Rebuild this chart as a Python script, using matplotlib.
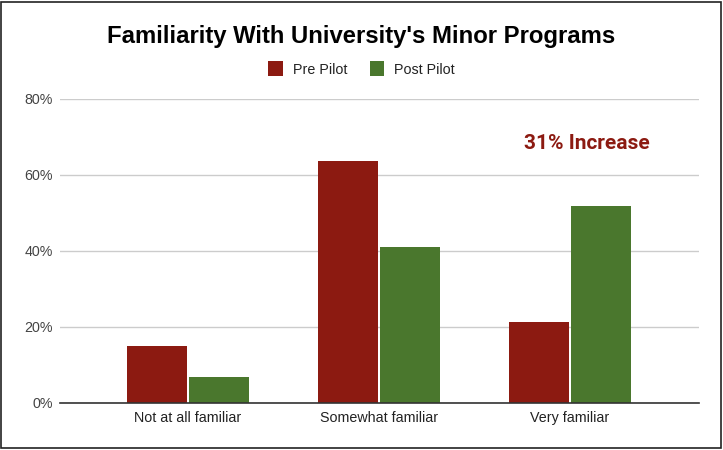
import numpy as np
import matplotlib
matplotlib.use('Agg')
import matplotlib.pyplot as plt
from matplotlib.patches import Rectangle

categories = ['Not at all familiar', 'Somewhat familiar', 'Very familiar']
pre_pilot = [14.9, 63.7, 21.2]
post_pilot = [6.8, 41.1, 51.9]
y_ticks = [0, 20, 40, 60, 80]

plt.rcParams['font.family'] = ['Liberation Sans', 'DejaVu Sans']

fig = plt.figure(figsize=(7.23, 4.5), dpi=100)
ax = fig.add_axes([60/723, 47/450, 639/723, 304/450])

x = np.arange(len(categories))
w = 0.314
ax.bar(x - w/2 - 0.005, pre_pilot, w, color='#8c1a11', label='Pre Pilot', zorder=3)
ax.bar(x + w/2 + 0.005, post_pilot, w, color='#4a772d', label='Post Pilot', zorder=3)

ax.set_xlim(-0.67, 2.675)
ax.set_ylim(0, 80)
ax.set_yticks(y_ticks)
ax.set_yticklabels([f'{t}%' for t in y_ticks])
ax.set_xticks(x)
ax.set_xticklabels(categories)
ax.tick_params(length=0, labelsize=10.3, colors='#444444')
ax.tick_params(axis='y', pad=5)
ax.tick_params(axis='x', pad=6, labelcolor='#222222')
ax.yaxis.grid(True, color='#cccccc', linewidth=1, zorder=0)
for s in ['top', 'right', 'left']:
    ax.spines[s].set_visible(False)
ax.spines['bottom'].set_color('#333333')
ax.spines['bottom'].set_linewidth(1.2)
ax.spines['bottom'].set_zorder(4)

fig.text(0.5, 1 - 36/450, "Familiarity With University's Minor Programs",
         ha='center', va='center', fontsize=17.2, fontweight='bold', color='black')
fig.legend(loc='center', bbox_to_anchor=(0.5, 1 - 69/450), ncol=2, frameon=False,
           fontsize=10.3, handlelength=1.0, handleheight=1.25, columnspacing=1.6,
           handletextpad=0.7, labelcolor='#222222')

ax.text(2.09, 68.2, '31% Increase', ha='center', va='center', fontsize=15,
        fontweight='bold', color='#8c1a11', family=['Roboto', 'DejaVu Sans'])

fig.add_artist(Rectangle((0.002, 0.004), 0.995, 0.992, transform=fig.transFigure,
                         fill=False, edgecolor='#222222', linewidth=1.2))

fig.savefig('out.png', dpi=100)
